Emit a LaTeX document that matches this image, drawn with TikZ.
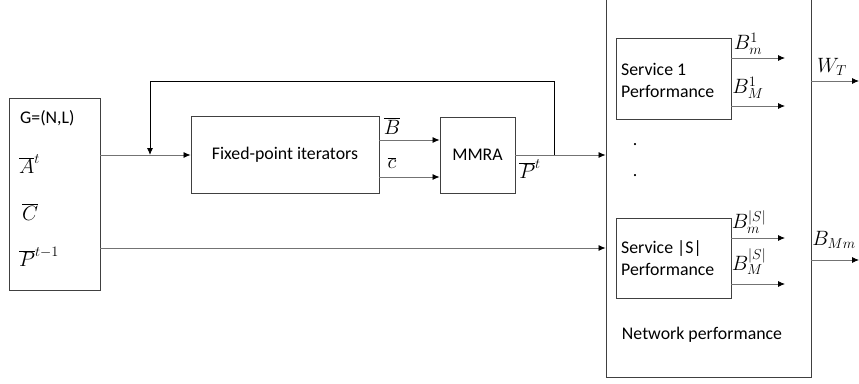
\documentclass[tikz,border=0pt]{standalone}
\usepackage{fontspec}
\setmainfont{Carlito}
\usetikzlibrary{arrows.meta}
\tikzset{
  box/.style={draw=black!75, line width=0.9pt, rectangle, inner sep=0pt},
  lbl/.style={font=\fontsize{20}{24}\selectfont, inner sep=0pt},
  txt/.style={font=\fontsize{17.8}{21}\selectfont, inner sep=0pt},
  tip/.style={-{Latex[length=7pt,width=6pt,color=black]}},
  arr/.style={draw=black!55, line width=0.8pt, tip},
  fb/.style={draw=black, line width=0.9pt, tip}
}
\begin{document}
\begin{tikzpicture}[x=1pt,y=-1pt]
\useasboundingbox (0,0) rectangle (859,383);
% boxes
\node[box, minimum width=91pt, minimum height=192pt] (inp) at (54.5,194) {};
\node[box, minimum width=188pt, minimum height=77pt] (fix) at (285,155) {};
\node[box, minimum width=75pt, minimum height=76pt] (mmra) at (477.5,155) {};
\node[box, minimum width=205pt, minimum height=397pt] (net) at (708.5,178.5) {};
\node[box, minimum width=115pt, minimum height=81pt] (s1) at (673.5,78.5) {};
\node[box, minimum width=115pt, minimum height=80pt] (sS) at (673.5,258) {};
% texts
\node[txt] (fixt) at (fix) {Fixed-point iterators};
\node[txt] (mmrat) at (mmra) {MMRA};
\node[txt, anchor=west] (g) at (20,118) {G=(N,L)};
\node[lbl, anchor=west] (a) at (19,164) {$\overline{A}^{t}$};
\node[lbl, anchor=west] (c) at (22,212) {$\overline{C}$};
\node[lbl, anchor=west] (p) at (19,257) {$\overline{P}^{t-1}$};
\node[txt, anchor=west, align=left] (s1t) at (621,80) {Service 1\\[1pt]Performance};
\node[txt, anchor=west, align=left] (sSt) at (621,258) {Service |S|\\[1pt]Performance};
\node[txt] (nett) at (702,335) {Network performance};
\node[txt] (d1) at (635,145) {.};
\node[txt] (d2) at (635,176) {.};
% labels
\node[lbl] (lb) at (392,126) {$\overline{B}$};
\node[lbl] (lc) at (392,163) {$\overline{c}$};
\node[lbl] (lp) at (530,169) {$\overline{P}^{t}$};
\node[lbl] (lbm1) at (748,44) {$B_m^1$};
\node[lbl] (lbM1) at (748,88) {$B_M^1$};
\node[lbl] (lwt) at (832,67) {$W_T$};
\node[lbl] (lbmS) at (749,222) {$B_m^{|S|}$};
\node[lbl] (lbMS) at (749,262) {$B_M^{|S|}$};
\node[lbl] (lbmm) at (834,240) {$B_{Mm}$};
% coordinates
\coordinate (fbA) at (554,155);
\coordinate (fbB) at (554,81);
\coordinate (fbC) at (150,81);
\coordinate (fbD) at (150,155);
\coordinate (o1) at (785,58);
\coordinate (o2) at (785,106);
\coordinate (o3) at (785,238);
\coordinate (o4) at (785,284);
\coordinate (ow) at (859,81);
\coordinate (ob) at (859,260);
% connectors
\draw[arr] (inp.east |- fix.west) -- (fix.west);
\draw[arr] (fix.east |- 0,140) -- (mmra.west |- 0,140);
\draw[arr] (fix.east |- 0,177) -- (mmra.west |- 0,177);
\draw[arr] (mmra.east) -- (net.west |- mmra.east);
\draw[fb] (fbA) -- (fbB) -- (fbC) -- (fbD);
\draw[arr] (inp.east |- 0,248) -- (net.west |- 0,248);
\draw[arr] (s1.east |- o1) -- (o1);
\draw[arr] (s1.east |- o2) -- (o2);
\draw[arr] (sS.east |- o3) -- (o3);
\draw[arr] (sS.east |- o4) -- (o4);
\draw[arr] (net.east |- ow) -- (ow);
\draw[arr] (net.east |- ob) -- (ob);
\end{tikzpicture}
\end{document}
